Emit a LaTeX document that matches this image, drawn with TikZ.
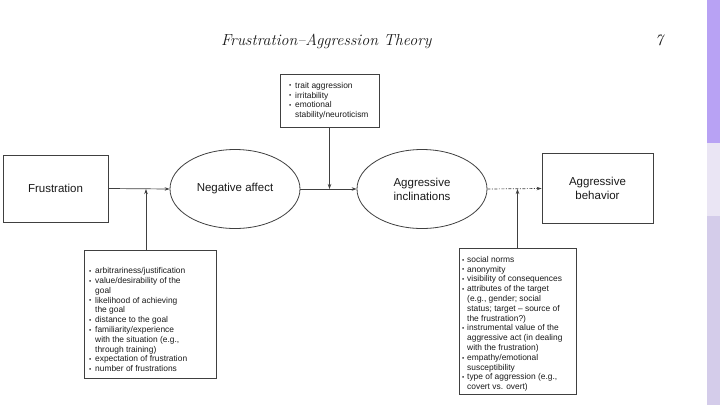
\documentclass[tikz,border=0pt]{standalone}
\usepackage{fontspec}
\usepackage{graphicx}
\usetikzlibrary{arrows.meta,shapes.geometric}
\newfontfamily\arialf{Liberation Sans}
\definecolor{linec}{HTML}{404040}
\definecolor{txt}{HTML}{1A1A1A}
\definecolor{barA}{HTML}{B8A2F4}
\definecolor{barB}{HTML}{EAE5F4}
\definecolor{barC}{HTML}{D4CCEA}
\newcommand\bu{\makebox[6pt][l]{\raisebox{0.4pt}{\scalebox{0.75}{•}}}}
\newcommand\ind{\hspace*{6pt}}
\newcommand\bur{\makebox[5pt][l]{\raisebox{0.2pt}{\scalebox{0.75}{•}}}}
\newcommand\indr{\hspace*{5pt}}
\begin{document}
\begin{tikzpicture}[x=1pt,y=-1pt,
  boxn/.style={draw=linec, line width=0.8pt, rectangle, inner sep=0pt},
  ell/.style={draw=linec, line width=0.8pt, ellipse, inner sep=0pt, minimum width=130pt, minimum height=79pt},
  main/.style={font=\arialf\fontsize{11.5}{14}\selectfont, text=txt, align=center},
  lst/.style={font=\arialf\fontsize{8.4}{9.8}\selectfont, text=txt, align=left, anchor=north west, inner sep=0pt},
  arr/.style={draw=linec, line width=0.7pt, -{Stealth[length=5pt,width=3.5pt]}},
  title/.style={font=\itshape\fontsize{16}{19}\selectfont, text=txt, anchor=base west, inner sep=0pt}]
\useasboundingbox (0,0) rectangle (720,405);
\fill[white] (0,0) rectangle (720,405);
% right side bars
\fill[barA] (707,0) rectangle (720,143);
\fill[barB] (707,143) rectangle (720,216);
\fill[barC] (707,216) rectangle (720,405);
% header
\node[title] (ttl) at (221,45) {Frustration–Aggression Theory};
\node[title] (pg) at (655,45) {7};
% main chain
\node[boxn, main, minimum width=105pt, minimum height=67pt] (fr) at (55.5,188.5) {Frustration};
\node[ell, main] (na) at (235,189) {Negative affect};
\node[ell, main] (ai) at (422,189) {Aggressive\\inclinations};
\node[boxn, main, minimum width=111pt, minimum height=70pt] (ab) at (597.5,188.5) {Aggressive\\behavior};
\draw[arr] (fr.east) -- (na.west);
\draw[arr] (na.east) -- (ai.west);
\draw[arr, dash pattern=on 3pt off 1.5pt on 1pt off 1.5pt] (ai.east) -- (ab.west);
% moderator boxes
\node[boxn, minimum width=99pt, minimum height=53pt] (tr) at (329.5,100.5) {};
\node[lst] (trt) at (289,82) {\bu trait aggression\\ \bu irritability\\ \bu emotional\\ \ind stability/neuroticism};
\node[boxn, minimum width=132pt, minimum height=128pt] (lb) at (150,314) {};
\node[lst] (lbt) at (89,267.5) {\bu arbitrariness/justification\\
\bu value/desirability of the\\ \ind goal\\
\bu likelihood of achieving\\ \ind the goal\\
\bu distance to the goal\\
\bu familiarity/experience\\ \ind with the situation (e.g.,\\ \ind through training)\\
\bu expectation of frustration\\
\bu number of frustrations};
\node[boxn, minimum width=117pt, minimum height=146pt] (rb) at (517.5,321) {};
\node[lst] (rbt) at (462,256) {\bur social norms\\
\bur anonymity\\
\bur visibility of consequences\\
\bur attributes of the target\\ \indr (e.g., gender; social\\ \indr status; target – source of\\ \indr the frustration?)\\
\bur instrumental value of the\\ \indr aggressive act (in dealing\\ \indr with the frustration)\\
\bur empathy/emotional\\ \indr susceptibility\\
\bur type of aggression (e.g.,\\ \indr covert vs. overt)};
% moderator connectors
\coordinate (j1) at (tr.south |- na.east);
\draw[arr] (tr.south) -- (j1);
\coordinate (j2) at (146,189);
\draw[arr] (j2 |- lb.north) -- (j2);
\coordinate (j3) at (rb.north |- ai.east);
\draw[arr] (rb.north) -- (j3);
\end{tikzpicture}
\end{document}
